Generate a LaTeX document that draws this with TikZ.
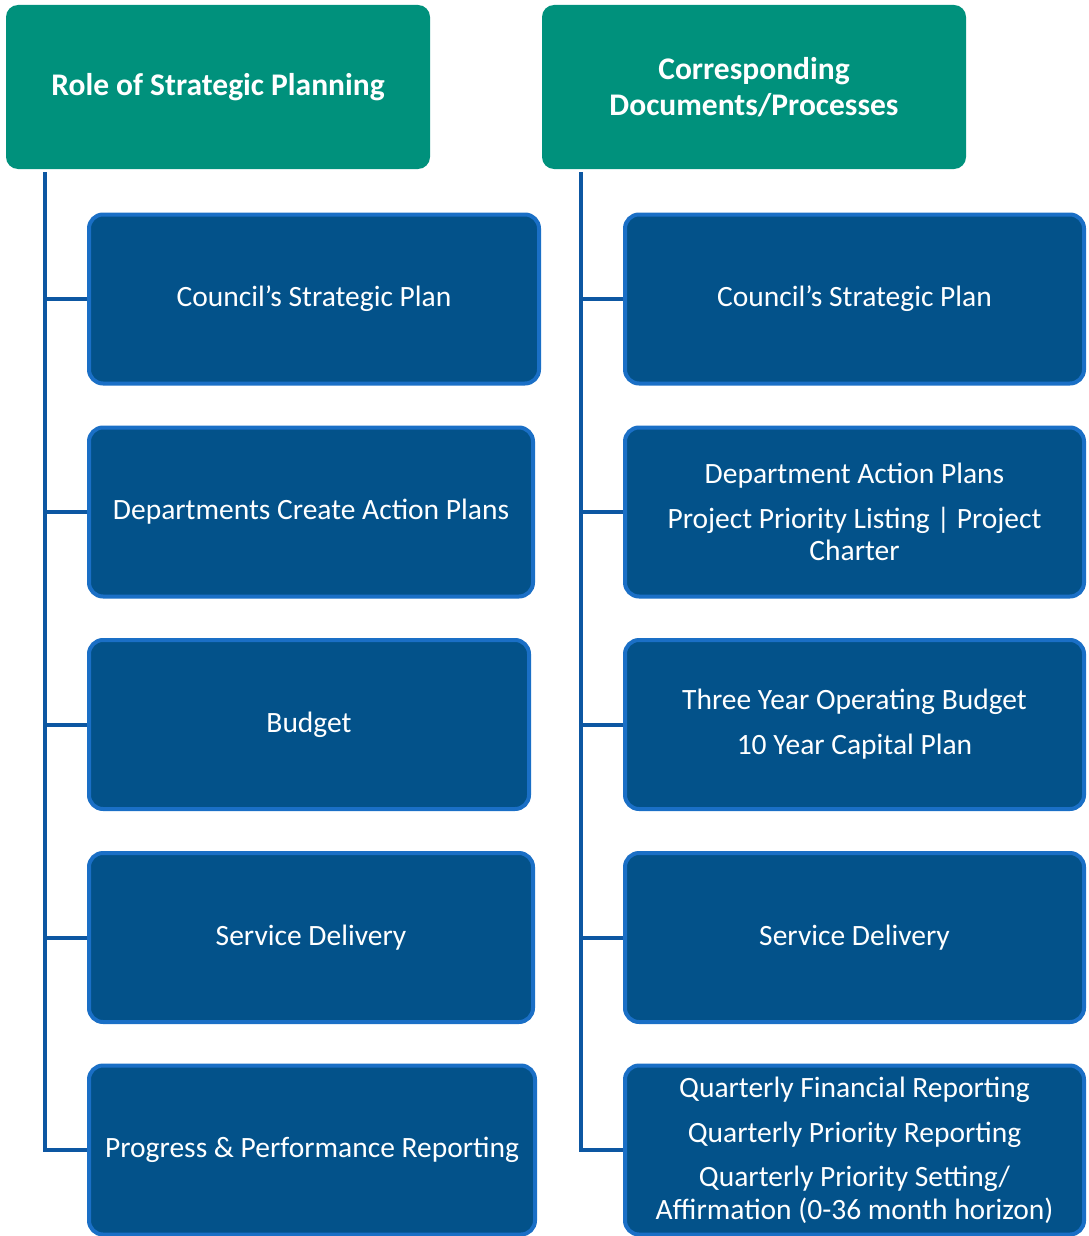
\documentclass[tikz,border=0pt]{standalone}
\usepackage{fontspec}
\setmainfont{Carlito}
\definecolor{hdrteal}{HTML}{00917C}
\definecolor{boxfill}{HTML}{03528A}
\definecolor{boxedge}{HTML}{1A6FC6}
\definecolor{trunkblue}{HTML}{0D57A2}
\tikzset{
  hdr/.style={fill=hdrteal, rounded corners=12pt, text=white, font=\fontsize{31.5}{36}\selectfont\bfseries, align=center, minimum width=424pt, minimum height=164pt, inner sep=0pt},
  sbox/.style={fill=boxfill, draw=boxedge, line width=4pt, rounded corners=14pt, text=white, font=\fontsize{29.5}{32.5}\selectfont, align=center, minimum height=169pt, inner sep=0pt},
  trunk/.style={draw=trunkblue, line width=4pt}
}
\begin{document}
\begin{tikzpicture}[x=1pt,y=-1pt]
\useasboundingbox (0,0) rectangle (1088,1236);
\node[hdr] (hL) at (218,87) {Role of Strategic Planning};
\node[hdr] (hR) at (754,87) {Corresponding\\Documents/Processes};
% left column
\node[sbox, minimum width=450pt] (L1) at (314,299) {Council’s Strategic Plan};
\node[sbox, minimum width=444pt] (L2) at (311,512) {Departments Create Action Plans};
\node[sbox, minimum width=440pt] (L3) at (309,724.5) {Budget};
\node[sbox, minimum width=444pt] (L4) at (311,937.5) {Service Delivery};
\node[sbox, minimum width=446pt] (L5) at (312,1150) {Progress \& Performance Reporting};
% right column
\node[sbox, minimum width=459pt] (R1) at (854.5,299) {Council’s Strategic Plan};
\node[sbox, minimum width=459pt] (R2) at (854.5,512) {Department Action Plans\\[12.5pt]Project Priority Listing | Project\\Charter};
\node[sbox, minimum width=459pt] (R3) at (854.5,724.5) {Three Year Operating Budget\\[12.5pt]10 Year Capital Plan};
\node[sbox, minimum width=459pt] (R4) at (854.5,937.5) {Service Delivery};
\node[sbox, minimum width=459pt] (R5) at (854.5,1150) {Quarterly Financial Reporting\\[12.5pt]Quarterly Priority Reporting\\[12pt]Quarterly Priority Setting/\\Affirmation (0-36 month horizon)};
% trunks
\coordinate (tL) at (45,172);
\coordinate (tR) at (581,172);
\draw[trunk] (tL) |- (L5.west);
\foreach \n in {L1,L2,L3,L4} \draw[trunk] (\n.west) -- (\n.west -| tL);
\draw[trunk] (tR) |- (R5.west);
\foreach \n in {R1,R2,R3,R4} \draw[trunk] (\n.west) -- (\n.west -| tR);
\end{tikzpicture}
\end{document}
